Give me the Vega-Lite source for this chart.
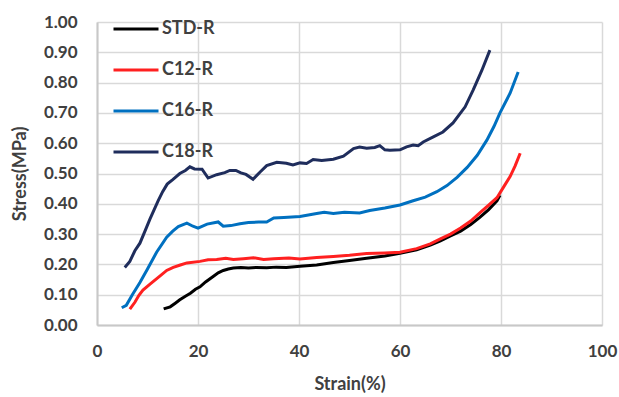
{
  "$schema": "https://vega.github.io/schema/vega-lite/v6.json",
  "width": 505,
  "height": 303,
  "autosize": {"type": "none"},
  "padding": {"left": 97, "top": 22, "right": 17, "bottom": 72},
  "background": "white",
  "config": {"view": {"stroke": null}, "font": "Lato"},
  "data": {"values": [
    {"s":"STD-R","x":13.2,"y":0.053},{"s":"STD-R","x":14.5,"y":0.06},{"s":"STD-R","x":15.5,"y":0.072},{"s":"STD-R","x":16.4,"y":0.083},{"s":"STD-R","x":17.5,"y":0.095},{"s":"STD-R","x":18.5,"y":0.105},{"s":"STD-R","x":19.5,"y":0.118},{"s":"STD-R","x":20.4,"y":0.126},{"s":"STD-R","x":21.5,"y":0.142},{"s":"STD-R","x":23,"y":0.16},{"s":"STD-R","x":24,"y":0.172},{"s":"STD-R","x":25,"y":0.18},{"s":"STD-R","x":26,"y":0.185},{"s":"STD-R","x":27,"y":0.188},{"s":"STD-R","x":28.5,"y":0.19},{"s":"STD-R","x":30,"y":0.188},{"s":"STD-R","x":31.5,"y":0.19},{"s":"STD-R","x":33.6,"y":0.189},{"s":"STD-R","x":35.5,"y":0.191},{"s":"STD-R","x":37.5,"y":0.19},{"s":"STD-R","x":40.2,"y":0.194},{"s":"STD-R","x":43.5,"y":0.198},{"s":"STD-R","x":46.8,"y":0.206},{"s":"STD-R","x":50,"y":0.213},{"s":"STD-R","x":53.4,"y":0.22},{"s":"STD-R","x":57,"y":0.228},{"s":"STD-R","x":60,"y":0.237},{"s":"STD-R","x":63.3,"y":0.248},{"s":"STD-R","x":66,"y":0.264},{"s":"STD-R","x":68,"y":0.278},{"s":"STD-R","x":70,"y":0.294},{"s":"STD-R","x":72,"y":0.31},{"s":"STD-R","x":74,"y":0.332},{"s":"STD-R","x":75.8,"y":0.355},{"s":"STD-R","x":77.5,"y":0.38},{"s":"STD-R","x":79.2,"y":0.41},{"s":"STD-R","x":79.8,"y":0.428},

    {"s":"C12-R","x":6.5,"y":0.052},{"s":"C12-R","x":7.5,"y":0.075},{"s":"C12-R","x":8.3,"y":0.098},{"s":"C12-R","x":9.1,"y":0.115},{"s":"C12-R","x":10.5,"y":0.135},{"s":"C12-R","x":12.5,"y":0.162},{"s":"C12-R","x":13.8,"y":0.18},{"s":"C12-R","x":15.1,"y":0.19},{"s":"C12-R","x":16.5,"y":0.198},{"s":"C12-R","x":17.8,"y":0.205},{"s":"C12-R","x":20.4,"y":0.21},{"s":"C12-R","x":22,"y":0.215},{"s":"C12-R","x":23.7,"y":0.216},{"s":"C12-R","x":25.5,"y":0.22},{"s":"C12-R","x":27,"y":0.216},{"s":"C12-R","x":29,"y":0.219},{"s":"C12-R","x":31,"y":0.222},{"s":"C12-R","x":33,"y":0.216},{"s":"C12-R","x":35,"y":0.219},{"s":"C12-R","x":38,"y":0.221},{"s":"C12-R","x":40.2,"y":0.218},{"s":"C12-R","x":43.5,"y":0.223},{"s":"C12-R","x":46.8,"y":0.226},{"s":"C12-R","x":50,"y":0.23},{"s":"C12-R","x":53.4,"y":0.236},{"s":"C12-R","x":57,"y":0.238},{"s":"C12-R","x":60,"y":0.24},{"s":"C12-R","x":63.3,"y":0.252},{"s":"C12-R","x":66,"y":0.268},{"s":"C12-R","x":68,"y":0.284},{"s":"C12-R","x":70,"y":0.3},{"s":"C12-R","x":72,"y":0.32},{"s":"C12-R","x":74,"y":0.343},{"s":"C12-R","x":75.8,"y":0.37},{"s":"C12-R","x":77.5,"y":0.395},{"s":"C12-R","x":79.2,"y":0.42},{"s":"C12-R","x":80.5,"y":0.455},{"s":"C12-R","x":81.8,"y":0.49},{"s":"C12-R","x":82.8,"y":0.525},{"s":"C12-R","x":83.8,"y":0.567},

    {"s":"C16-R","x":4.9,"y":0.057},{"s":"C16-R","x":5.8,"y":0.065},{"s":"C16-R","x":7,"y":0.1},{"s":"C16-R","x":8.5,"y":0.14},{"s":"C16-R","x":10,"y":0.185},{"s":"C16-R","x":11.8,"y":0.24},{"s":"C16-R","x":13.8,"y":0.29},{"s":"C16-R","x":15,"y":0.31},{"s":"C16-R","x":16.1,"y":0.325},{"s":"C16-R","x":17.8,"y":0.336},{"s":"C16-R","x":19,"y":0.326},{"s":"C16-R","x":20,"y":0.32},{"s":"C16-R","x":21.8,"y":0.333},{"s":"C16-R","x":24,"y":0.34},{"s":"C16-R","x":25,"y":0.326},{"s":"C16-R","x":26.5,"y":0.328},{"s":"C16-R","x":28.3,"y":0.334},{"s":"C16-R","x":30,"y":0.338},{"s":"C16-R","x":32,"y":0.34},{"s":"C16-R","x":33.6,"y":0.34},{"s":"C16-R","x":35,"y":0.353},{"s":"C16-R","x":37,"y":0.355},{"s":"C16-R","x":40.2,"y":0.358},{"s":"C16-R","x":43.5,"y":0.368},{"s":"C16-R","x":45,"y":0.372},{"s":"C16-R","x":46.8,"y":0.368},{"s":"C16-R","x":49,"y":0.372},{"s":"C16-R","x":52,"y":0.37},{"s":"C16-R","x":54,"y":0.378},{"s":"C16-R","x":57,"y":0.386},{"s":"C16-R","x":60,"y":0.396},{"s":"C16-R","x":62.6,"y":0.41},{"s":"C16-R","x":65,"y":0.422},{"s":"C16-R","x":67.3,"y":0.44},{"s":"C16-R","x":69.3,"y":0.46},{"s":"C16-R","x":71.3,"y":0.487},{"s":"C16-R","x":73.3,"y":0.52},{"s":"C16-R","x":75.3,"y":0.56},{"s":"C16-R","x":77.2,"y":0.61},{"s":"C16-R","x":78.6,"y":0.655},{"s":"C16-R","x":79.8,"y":0.7},{"s":"C16-R","x":81.8,"y":0.765},{"s":"C16-R","x":83.4,"y":0.835},

    {"s":"C18-R","x":5.5,"y":0.19},{"s":"C18-R","x":6.5,"y":0.21},{"s":"C18-R","x":7.5,"y":0.245},{"s":"C18-R","x":8.5,"y":0.27},{"s":"C18-R","x":9.5,"y":0.31},{"s":"C18-R","x":10.5,"y":0.35},{"s":"C18-R","x":11.3,"y":0.38},{"s":"C18-R","x":12.1,"y":0.41},{"s":"C18-R","x":13,"y":0.44},{"s":"C18-R","x":13.9,"y":0.465},{"s":"C18-R","x":15,"y":0.48},{"s":"C18-R","x":16.4,"y":0.5},{"s":"C18-R","x":17.5,"y":0.51},{"s":"C18-R","x":18.4,"y":0.522},{"s":"C18-R","x":19.3,"y":0.515},{"s":"C18-R","x":20.8,"y":0.514},{"s":"C18-R","x":22,"y":0.485},{"s":"C18-R","x":23.7,"y":0.496},{"s":"C18-R","x":25.3,"y":0.503},{"s":"C18-R","x":26.3,"y":0.51},{"s":"C18-R","x":27.5,"y":0.51},{"s":"C18-R","x":28.5,"y":0.502},{"s":"C18-R","x":29.5,"y":0.497},{"s":"C18-R","x":30.9,"y":0.481},{"s":"C18-R","x":32.3,"y":0.505},{"s":"C18-R","x":33.6,"y":0.526},{"s":"C18-R","x":35.6,"y":0.537},{"s":"C18-R","x":37.5,"y":0.534},{"s":"C18-R","x":38.8,"y":0.528},{"s":"C18-R","x":40.2,"y":0.535},{"s":"C18-R","x":41.5,"y":0.533},{"s":"C18-R","x":42.8,"y":0.546},{"s":"C18-R","x":44.5,"y":0.543},{"s":"C18-R","x":46.8,"y":0.547},{"s":"C18-R","x":48.8,"y":0.557},{"s":"C18-R","x":50.8,"y":0.582},{"s":"C18-R","x":52,"y":0.587},{"s":"C18-R","x":53.4,"y":0.583},{"s":"C18-R","x":55,"y":0.586},{"s":"C18-R","x":56,"y":0.592},{"s":"C18-R","x":57,"y":0.578},{"s":"C18-R","x":58,"y":0.577},{"s":"C18-R","x":60,"y":0.578},{"s":"C18-R","x":61.3,"y":0.588},{"s":"C18-R","x":62.6,"y":0.594},{"s":"C18-R","x":63.6,"y":0.592},{"s":"C18-R","x":64.6,"y":0.604},{"s":"C18-R","x":66.5,"y":0.62},{"s":"C18-R","x":68.5,"y":0.637},{"s":"C18-R","x":70.5,"y":0.667},{"s":"C18-R","x":72.9,"y":0.72},{"s":"C18-R","x":74.5,"y":0.776},{"s":"C18-R","x":76.2,"y":0.84},{"s":"C18-R","x":77.8,"y":0.907}
  ]},
  "mark": {"type": "line", "strokeWidth": 3, "interpolate": "linear"},
  "encoding": {
    "x": {"field": "x", "type": "quantitative",
      "scale": {"domain": [0, 100], "nice": false},
      "axis": {"values": [0,20,40,60,80,100], "title": "Strain(%)", "titleFontSize": 18, "titleFontWeight": "bold", "titleColor": "#404040", "titlePadding": 16,
        "labelFontSize": 17, "labelFontWeight": "bold", "labelColor": "#404040", "labelPadding": 18, "ticks": false, "labelFlush": false, "labelOverlap": false,
        "domainColor": "#c8c8c8", "domainWidth": 2, "grid": true, "gridColor": "#d9d9d9", "gridWidth": 1.5}},
    "y": {"field": "y", "type": "quantitative",
      "scale": {"domain": [0, 1], "nice": false},
      "axis": {"values": [0,0.1,0.2,0.3,0.4,0.5,0.6,0.7,0.8,0.9,1.0], "format": ".2f", "title": "Stress(MPa)", "titleFontSize": 18, "titleFontWeight": "bold", "titleColor": "#404040", "titlePadding": 14,
        "labelFontSize": 17, "labelFontWeight": "bold", "labelColor": "#404040", "labelPadding": 20, "ticks": false, "labelFlush": false, "labelOverlap": false,
        "domainColor": "#c8c8c8", "domainWidth": 2, "grid": true, "gridColor": "#d9d9d9", "gridWidth": 1.5}},
    "color": {"field": "s", "type": "nominal",
      "scale": {"domain": ["STD-R","C12-R","C16-R","C18-R"], "range": ["#000000","#ff2020","#0070c0","#1f2d5c"]},
      "legend": {"title": null, "orient": "none", "legendX": 15, "legendY": -17, "symbolType": "stroke", "symbolSize": 2025, "symbolStrokeWidth": 3,
        "labelFontSize": 18, "labelFontWeight": "bold", "labelColor": "#404040", "labelOffset": 2, "rowPadding": 8}}
  }
}
